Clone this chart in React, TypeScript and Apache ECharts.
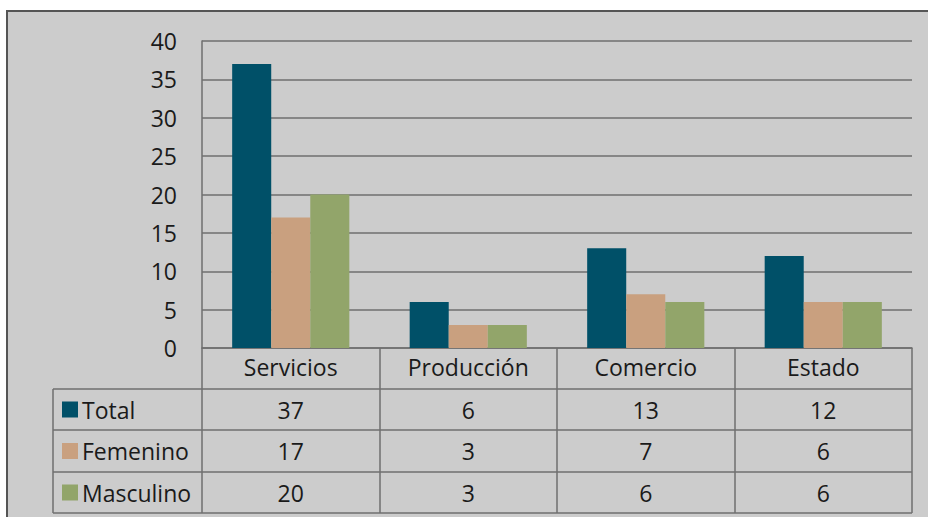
import React, { useEffect, useRef } from "react";
import * as echarts from "echarts";

const categories = ["Servicios", "Producción", "Comercio", "Estado"];
const seriesNames = ["Total", "Femenino", "Masculino"];
const totalValues = [37, 6, 13, 12];
const femeninoValues = [17, 3, 7, 6];
const masculinoValues = [20, 3, 6, 6];
const colors = ["#005068", "#c9a07f", "#92a56a"];

const FONT = "Open Sans";
const FS = 23;
const W = 928;
const H = 517;
const GRID_LEFT = 202;
const GRID_RIGHT = 912;
const GRID_TOP = 41;
const AXIS_Y = 348;
const TABLE_LEFT = 53;
const ROW_LINES = [389, 430, 472, 513];
const LINE_COLOR = "#6f6f6f";
const TEXT_COLOR = "#1a1a1a";

export default function App() {
  const ref = useRef<HTMLDivElement>(null);
  useEffect(() => {
    if (!ref.current) return;
    const chart = echarts.init(ref.current, null, { renderer: "svg", width: W, height: H });
    const allValues = [totalValues, femeninoValues, masculinoValues];
    chart.setOption({
      animation: false,
      backgroundColor: "#ffffff",
      grid: {
        left: GRID_LEFT,
        right: W - GRID_RIGHT,
        top: GRID_TOP,
        bottom: H - AXIS_Y,
        containLabel: false,
      },
      xAxis: {
        type: "category",
        data: categories,
        axisLine: { show: true, lineStyle: { color: LINE_COLOR, width: 1.5 } },
        axisTick: {
          show: true,
          length: ROW_LINES[3] - AXIS_Y,
          lineStyle: { color: LINE_COLOR, width: 1.5 },
        },
        axisLabel: {
          margin: 7,
          fontFamily: FONT,
          fontSize: FS,
          color: TEXT_COLOR,
        },
      },
      yAxis: {
        type: "value",
        min: 0,
        max: 40,
        interval: 5,
        axisLine: { show: true, lineStyle: { color: LINE_COLOR, width: 1.5 } },
        axisTick: { show: false },
        splitLine: { show: true, lineStyle: { color: LINE_COLOR, width: 1.5 } },
        axisLabel: {
          margin: 25,
          fontFamily: FONT,
          fontSize: FS,
          color: TEXT_COLOR,
        },
      },
      series: seriesNames.map((name, i) => ({
        name,
        type: "bar",
        data: allValues[i],
        barGap: "0%",
        barCategoryGap: "34%",
        itemStyle: { color: colors[i] },
        z: 3,
      })),
    });

    const graphics: any[] = [];
    graphics.push({
      type: "rect",
      shape: { x: 7, y: 11, width: W + 20, height: H + 20 },
      style: { fill: "#cccccc", stroke: "#555555", lineWidth: 2 },
      z: -10,
      silent: true,
    });
    ROW_LINES.forEach((y) => {
      graphics.push({
        type: "line",
        shape: { x1: TABLE_LEFT, y1: y, x2: GRID_RIGHT, y2: y },
        style: { stroke: LINE_COLOR, lineWidth: 1.5 },
        z: 5,
      });
    });
    graphics.push({
      type: "line",
      shape: { x1: TABLE_LEFT, y1: ROW_LINES[0], x2: TABLE_LEFT, y2: ROW_LINES[3] },
      style: { stroke: LINE_COLOR, lineWidth: 1.5 },
      z: 5,
    });
    seriesNames.forEach((name, r) => {
      const yTop = ROW_LINES[r];
      const yBot = ROW_LINES[r + 1];
      const cy = (yTop + yBot) / 2;
      graphics.push({
        type: "rect",
        shape: { x: 62, y: cy - 8, width: 16, height: 16 },
        style: { fill: colors[r] },
        z: 5,
      });
      graphics.push({
        type: "text",
        x: 82,
        y: cy,
        style: {
          text: name,
          fontFamily: FONT,
          fontSize: FS,
          fill: TEXT_COLOR,
          verticalAlign: "middle",
          align: "left",
        },
        z: 5,
      });
      allValues[r].forEach((v, c) => {
        const px = chart.convertToPixel({ xAxisIndex: 0 }, categories[c]) as number;
        graphics.push({
          type: "text",
          x: px,
          y: cy,
          style: {
            text: String(v),
            fontFamily: FONT,
            fontSize: FS,
            fill: TEXT_COLOR,
            verticalAlign: "middle",
            align: "center",
          },
          z: 5,
        });
      });
    });
    chart.setOption({ graphic: graphics });
    return () => chart.dispose();
  }, []);
  return (
    <div
      ref={ref}
      style={{ position: "absolute", left: 0, top: 0, width: W, height: H }}
    />
  );
}
